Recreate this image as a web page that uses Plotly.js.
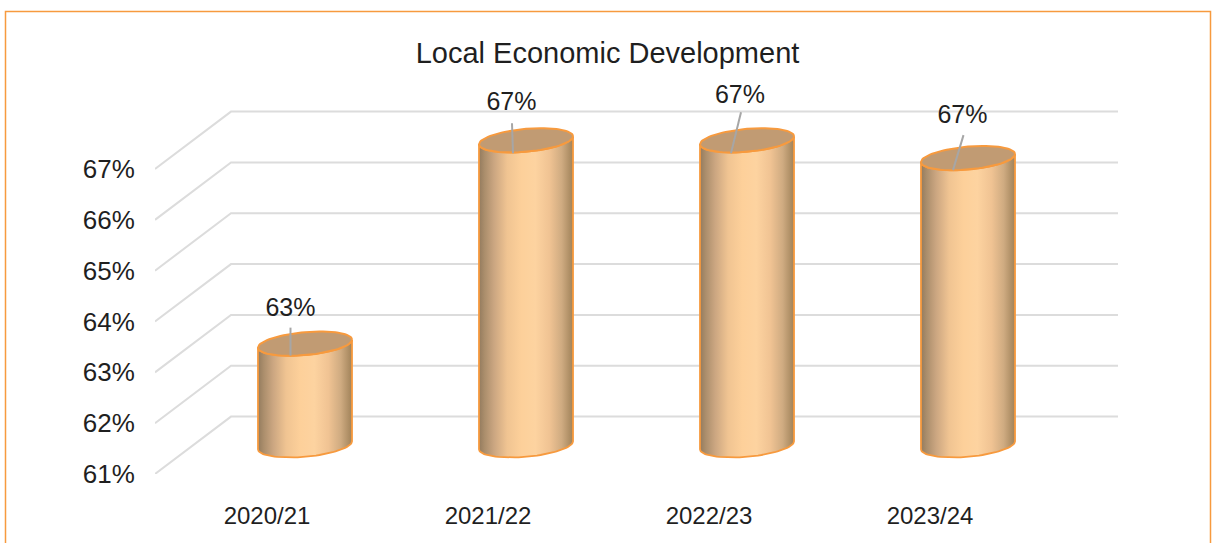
<!DOCTYPE html>
<html>
<head>
<meta charset="utf-8">
<title>Local Economic Development</title>
<script src="https://cdn.plot.ly/plotly-3.0.1.min.js"></script>
<style>html,body{margin:0;padding:0;background:#fff}#chart{width:1213px;height:543px}</style>
</head>
<body>
<div id="chart"></div>
<script>
// Chart content
const chartTitle = 'Local Economic Development';
const categories = ['2020/21', '2021/22', '2022/23', '2023/24'];
const values = [63, 67, 67, 66.65];
const yTicks = [61, 62, 63, 64, 65, 66, 67];

// Pixel scale of the page, used to express the oblique projection in axis units
const W = 1213, H = 543;
const M = {l: 155, r: 95, t: 70, b: 69};
const pxPerCat = 221, pxPerPct = 50.83;
const X = px => px / pxPerCat;
const Y = px => px / pxPerPct;

// Oblique depth of the floor and walls, in axis units
const depthX = X(76), depthY = Y(57.4);
const midX = depthX / 2, midY = depthY / 2;

const xMin = -X(112), xMax = xMin + (W - M.l - M.r) / pxPerCat;
const yMin = 61, yMax = yMin + (H - M.t - M.b) / pxPerPct;

// Cylinder cross-section: a sheared ellipse
const radiusX = X(47), radiusY = Y(11.5), shear = Y(4);
const ringPoint = (i, v, t) => [
  i + midX + radiusX * Math.cos(t),
  v + midY + shear * Math.cos(t) + radiusY * Math.sin(t)
];
const arc = (i, v, from, to, n) => {
  const pts = [];
  for (let k = 0; k <= n; k++) pts.push(ringPoint(i, v, from + (to - from) * k / n));
  return pts;
};

// Leader and value label placement relative to each cylinder top, in px: [dx, dy up]
const leaderFoot = [[-14.5, -12], [-13, -13], [-16, -13], [-15, -12]];
const leaderHead = [[-14.5, 16], [-14, 17], [-6, 28], [-4.5, 23]];
const labelPos = [[-14.5, 34], [-14.5, 37], [-7, 44], [-5.5, 41]];

const gridColor = '#dcdcdc';
const edgeColor = '#f79a3e';
const textColor = '#1f1f1f';
const sideScale = [
  [0, '#937b5e'], [0.06, '#ab8e6c'], [0.16, '#cba681'], [0.3, '#f0c492'],
  [0.45, '#fdd09a'], [0.6, '#fdd3a0'], [0.75, '#f0c393'], [0.88, '#cfab81'], [1, '#a08259']
];

const traces = [];

// Back wall gridlines and their diagonals down to the front edge
yTicks.forEach(v => {
  traces.push({
    x: [xMin, xMin + depthX, xMax],
    y: [v, v + depthY, v + depthY],
    mode: 'lines', line: {color: gridColor, width: 2},
    hoverinfo: 'skip', showlegend: false
  });
});

// Cylinders
values.forEach((v, i) => {
  const side = arc(i, v, Math.PI, 2 * Math.PI, 40).concat(arc(i, yMin, 2 * Math.PI, Math.PI, 40));
  side.push(side[0]);
  traces.push({
    x: side.map(p => p[0]), y: side.map(p => p[1]),
    mode: 'lines', fill: 'toself',
    fillgradient: {type: 'horizontal', colorscale: sideScale},
    line: {color: edgeColor, width: 1.8},
    hoverinfo: 'skip', showlegend: false
  });
  const top = arc(i, v, 0, 2 * Math.PI, 80);
  traces.push({
    x: top.map(p => p[0]), y: top.map(p => p[1]),
    mode: 'lines', fill: 'toself', fillcolor: '#c19b73',
    line: {color: edgeColor, width: 2},
    hoverinfo: 'skip', showlegend: false
  });
});

// Leader lines from each cylinder top to its value label
const leaderX = [], leaderY = [];
values.forEach((v, i) => {
  const cx = i + midX, cy = v + midY;
  leaderX.push(cx + X(leaderFoot[i][0]), cx + X(leaderHead[i][0]), null);
  leaderY.push(cy + Y(leaderFoot[i][1]), cy + Y(leaderHead[i][1]), null);
});
traces.push({
  x: leaderX, y: leaderY, mode: 'lines',
  line: {color: '#a6a6a6', width: 2},
  hoverinfo: 'skip', showlegend: false
});

// Value labels, rounded to whole percent
traces.push({
  x: values.map((v, i) => i + midX + X(labelPos[i][0])),
  y: values.map((v, i) => v + midY + Y(labelPos[i][1])),
  text: values.map(v => Math.round(v) + '%'),
  mode: 'text', textposition: 'middle center',
  textfont: {family: 'Liberation Sans, Arial, sans-serif', size: 25, color: textColor},
  cliponaxis: false, hoverinfo: 'skip', showlegend: false
});

// Chart frame, open along the bottom edge of the page
const plotW = W - M.l - M.r, plotH = H - M.t - M.b;
const paperX = px => (px - M.l) / plotW;
const paperY = px => 1 - (px - M.t) / plotH;
const framePath = 'M ' + paperX(5.5) + ' ' + paperY(543) +
  ' L ' + paperX(5.5) + ' ' + paperY(11.5) +
  ' L ' + paperX(1210.5) + ' ' + paperY(11.5) +
  ' L ' + paperX(1210.5) + ' ' + paperY(543);

const axisFont = {family: 'Liberation Sans, Arial, sans-serif', size: 25, color: textColor};

const layout = {
  width: W, height: H,
  margin: M,
  paper_bgcolor: '#ffffff', plot_bgcolor: 'rgba(0,0,0,0)',
  showlegend: false,
  title: {
    text: chartTitle,
    font: {family: 'Liberation Sans, Arial, sans-serif', size: 29, color: textColor},
    x: 607.5 / W, xanchor: 'center', xref: 'container',
    y: 1 - 53 / H, yanchor: 'middle', yref: 'container'
  },
  xaxis: {
    range: [xMin, xMax], tickmode: 'array',
    tickvals: categories.map((c, i) => i), ticktext: categories,
    showgrid: false, zeroline: false, showline: false,
    ticks: 'outside', ticklen: 20, tickcolor: 'rgba(0,0,0,0)',
    tickfont: Object.assign({}, axisFont, {size: 24})
  },
  yaxis: {
    range: [yMin, yMax], tickmode: 'array',
    tickvals: yTicks, ticktext: yTicks.map(v => v + '%'),
    showgrid: false, zeroline: false, showline: false,
    ticks: 'outside', ticklen: 14, tickcolor: 'rgba(0,0,0,0)',
    tickfont: Object.assign({}, axisFont, {size: 26})
  },
  shapes: [{
    type: 'path', xref: 'paper', yref: 'paper', path: framePath,
    line: {color: edgeColor, width: 1.5}, layer: 'below'
  }]
};

Plotly.newPlot('chart', traces, layout, {displayModeBar: false, responsive: false});
</script>
</body>
</html>
